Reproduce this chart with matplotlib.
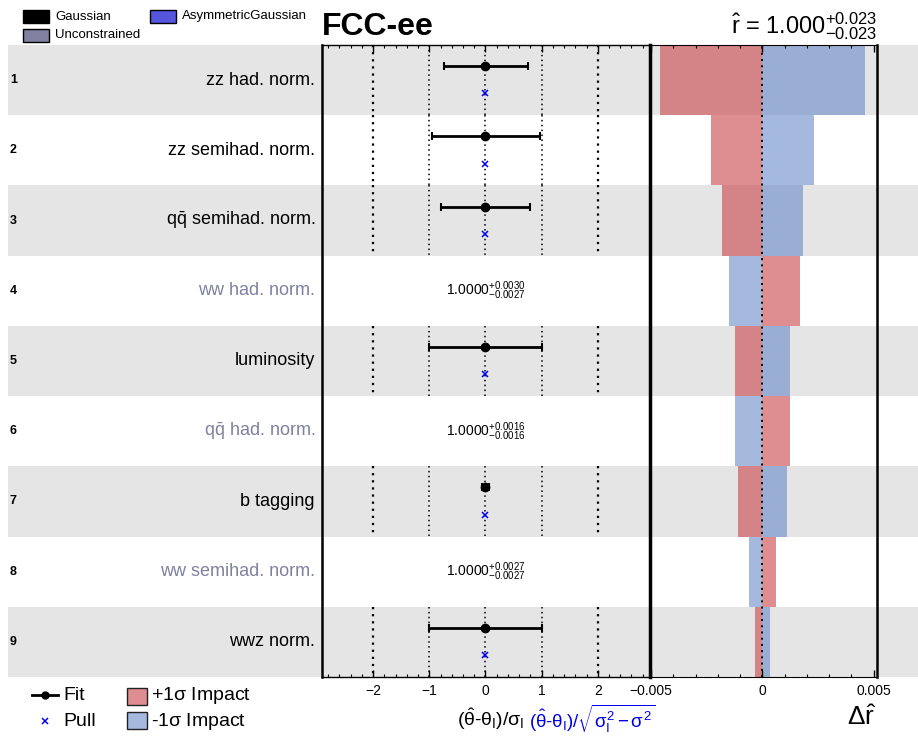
import matplotlib
matplotlib.use("Agg")
import matplotlib.pyplot as plt
import matplotlib.transforms as mtrans
from matplotlib.patches import Rectangle
from matplotlib.lines import Line2D
from matplotlib.ticker import MultipleLocator, FixedLocator, FixedFormatter

plt.rcParams['font.family'] = ['Liberation Sans', 'DejaVu Sans']
plt.rcParams['mathtext.fontset'] = 'custom'
plt.rcParams['mathtext.rm'] = 'Liberation Sans'
plt.rcParams['mathtext.it'] = 'Liberation Sans'
plt.rcParams['mathtext.bf'] = 'Liberation Sans:bold'

# nuisance parameters, top to bottom
labels = ["zz had. norm.", "zz semihad. norm.", r"q$\bar{\mathrm{q}}$ semihad. norm.",
          "ww had. norm.", "luminosity", r"q$\bar{\mathrm{q}}$ had. norm.",
          "b tagging", "ww semihad. norm.", "wwz norm."]
unconstrained = [False, False, False, True, False, True, False, True, False]

# fitted value and its errors (pull panel)
fit_val = [0, 0, 0, 0, 0, 0, 0, 0, 0]
fit_err_lo = [0.73, 0.95, 0.80, 0, 1.00, 0, 0.06, 0, 1.00]
fit_err_hi = [0.75, 0.97, 0.80, 0, 1.00, 0, 0.06, 0, 1.00]
pull_val = [0, 0, 0, 0, 0, 0, 0, 0, 0]

# unconstrained parameters, value +hi -lo
uc_val = ["1.0000", "1.0000", "1.0000"]
uc_hi = ["0.0030", "0.0016", "0.0027"]
uc_lo = ["0.0027", "0.0016", "0.0027"]

# impacts on r
impact_up = [-0.00462, -0.00233, -0.00180, 0.00170, -0.00121, 0.00126, -0.00108, 0.00063, -0.00031]
impact_dn = [0.00462, 0.00233, 0.00184, -0.00148, 0.00126, -0.00121, 0.00112, -0.00058, 0.00036]

red = (0.79, 0.26, 0.28)
blue = (0.41, 0.54, 0.79)
unc_col = '#8080a0'

W, H = 918, 740
def fx(x): return x / W
def fy(y): return 1 - y / H

top, bot = 45, 677
n = len(labels)
ypos = [i + 0.5 for i in range(n)]

fig = plt.figure(figsize=(W / 100, H / 100), dpi=100)

# background bands
bg = fig.add_axes([fx(8), fy(bot), fx(918) - fx(8), fy(top) - fy(bot)])
bg.set_xlim(0, 1)
bg.set_ylim(n, 0)
bg.axis('off')
for i in range(0, n, 2):
    bg.axhspan(i, i + 1, color='#e5e5e5', lw=0)

tr = mtrans.blended_transform_factory(fig.transFigure, bg.transData)
for i, lab in enumerate(labels):
    fig.text(fx(10), ypos[i], str(i + 1), transform=tr, ha='left', va='center',
             fontsize=9, fontweight='bold')
    fig.text(fx(315), ypos[i], lab, transform=tr, ha='right', va='center',
             fontsize=13, color=unc_col if unconstrained[i] else 'black')

# pull panel
ax = fig.add_axes([fx(322), fy(bot), fx(650) - fx(322), fy(top) - fy(bot)])
ax.set_facecolor('none')
ax.set_xlim(-2.91, 2.93)
ax.set_ylim(n, 0)
dot = (0, (1, 2.2))
k = 0
for i in range(n):
    if unconstrained[i]:
        ax.text(0, ypos[i], r"$%s^{+%s}_{-%s}$" % (uc_val[k], uc_hi[k], uc_lo[k]),
                ha='center', va='center', fontsize=10)
        k += 1
        continue
    ax.vlines([-2, 2], i, i + 1, colors='k', linestyles=dot, lw=1.6)
    ax.vlines([-1, 0, 1], i, i + 1, colors='k', linestyles=dot, lw=1.1)
    ax.errorbar(fit_val[i], ypos[i] - 0.2, xerr=[[fit_err_lo[i]], [fit_err_hi[i]]],
                fmt='o', color='k', ms=6, elinewidth=2, capsize=3, capthick=1.5, zorder=5)
    ax.plot(pull_val[i], ypos[i] + 0.19, 'x', color='#0000ee', ms=5, mew=1.1, zorder=5)
ax.set_yticks([])
ax.xaxis.set_major_locator(FixedLocator([-2, -1, 0, 1, 2]))
ax.xaxis.set_minor_locator(MultipleLocator(0.2))
ax.tick_params(axis='x', which='both', direction='in', top=True, bottom=True, labelsize=10, pad=5)
ax.tick_params(axis='x', which='major', length=5, width=1)
ax.tick_params(axis='x', which='minor', length=2.5, width=0.8)
ax.spines['right'].set_visible(False)
ax.spines['left'].set_linewidth(1.8)
ax.spines['top'].set_linewidth(1)
ax.spines['bottom'].set_linewidth(1)

# impact panel
ai = fig.add_axes([fx(650), fy(bot), fx(877) - fx(650), fy(top) - fy(bot)])
ai.set_facecolor('none')
ai.barh(ypos, impact_up, height=1, color=red, alpha=0.6, lw=0)
ai.barh(ypos, impact_dn, height=1, color=blue, alpha=0.6, lw=0)
ai.axvline(0, color='k', ls=dot, lw=1.4)
ai.set_xlim(-0.00505, 0.00515)
ai.set_ylim(n, 0)
ai.set_yticks([])
ai.xaxis.set_major_locator(FixedLocator([-0.005, 0, 0.005]))
ai.xaxis.set_major_formatter(FixedFormatter(['\u22120.005', '0', '0.005']))
ai.xaxis.set_minor_locator(MultipleLocator(0.001))
ai.tick_params(axis='x', which='both', direction='in', top=True, bottom=True, labelsize=10, pad=5)
ai.tick_params(axis='x', which='major', length=5, width=1)
ai.tick_params(axis='x', which='minor', length=2.5, width=0.8)
ai.spines['left'].set_linewidth(2.5)
ai.spines['right'].set_linewidth(1.8)

# titles
fig.text(fx(322), fy(35), "FCC-ee", fontsize=23, fontweight='bold', ha='left', va='baseline')
fig.text(fx(877), fy(33), r"$\hat{\mathrm{r}}$ = 1.000$^{+0.023}_{-0.023}$", fontsize=17,
         ha='right', va='baseline')

# top legend
def box(x0, y0, x1, y1, fc, alpha=1.0):
    fig.add_artist(Rectangle((fx(x0), fy(y1)), fx(x1) - fx(x0), fy(y0) - fy(y1),
                             transform=fig.transFigure, facecolor=fc, edgecolor='k',
                             lw=1, alpha=alpha))

box(23, 10, 49, 23, 'black')
fig.text(fx(55), fy(16.5), "Gaussian", fontsize=9.5, va='center')
box(150, 10, 176, 23, '#5555dd')
fig.text(fx(182), fy(16.5), "AsymmetricGaussian", fontsize=9.5, va='center')
box(23, 29, 49, 42, unc_col)
fig.text(fx(55), fy(35), "Unconstrained", fontsize=9.5, va='center')

# bottom legend
fig.add_artist(Line2D([fx(32), fx(58)], [fy(695), fy(695)], transform=fig.transFigure,
                      color='k', lw=2, marker=None))
fig.add_artist(Line2D([fx(45)], [fy(695)], transform=fig.transFigure, color='k',
                      marker='o', ms=5))
fig.text(fx(63), fy(695), "Fit", fontsize=14, va='center')
fig.add_artist(Line2D([fx(45)], [fy(721)], transform=fig.transFigure, color='#0000ee',
                      marker='x', ms=5, mew=1.1, lw=0))
fig.text(fx(63), fy(721), "Pull", fontsize=14, va='center')
fig.add_artist(Rectangle((fx(127), fy(705)), fx(147) - fx(127), fy(688) - fy(705),
                         transform=fig.transFigure, facecolor=(*red, 0.6), edgecolor='#222222', lw=1))
fig.text(fx(151), fy(696), r"+1$\sigma$ Impact", fontsize=14, va='center')
fig.add_artist(Rectangle((fx(127), fy(729)), fx(147) - fx(127), fy(712) - fy(729),
                         transform=fig.transFigure, facecolor=(*blue, 0.6), edgecolor='#222222', lw=1))
fig.text(fx(151), fy(721), r"-1$\sigma$ Impact", fontsize=14, va='center')

# axis titles
fig.text(fx(524), fy(719), r"$(\hat{\theta}$-$\theta_{\mathrm{I}})/\sigma_{\mathrm{I}}$",
         fontsize=14, ha='right', va='center')
fig.text(fx(529), fy(719),
         r"$(\hat{\theta}$-$\theta_{\mathrm{I}})/\sqrt{\sigma_{\mathrm{I}}^{2}\,\mathrm{-}\,\sigma^{2}}$",
         fontsize=13.5, ha='left', va='center', color='#0000ee')
fig.text(fx(876), fy(718), r"$\Delta\hat{\mathrm{r}}$", fontsize=19, ha='right', va='center')

fig.savefig("out.png", dpi=100)
